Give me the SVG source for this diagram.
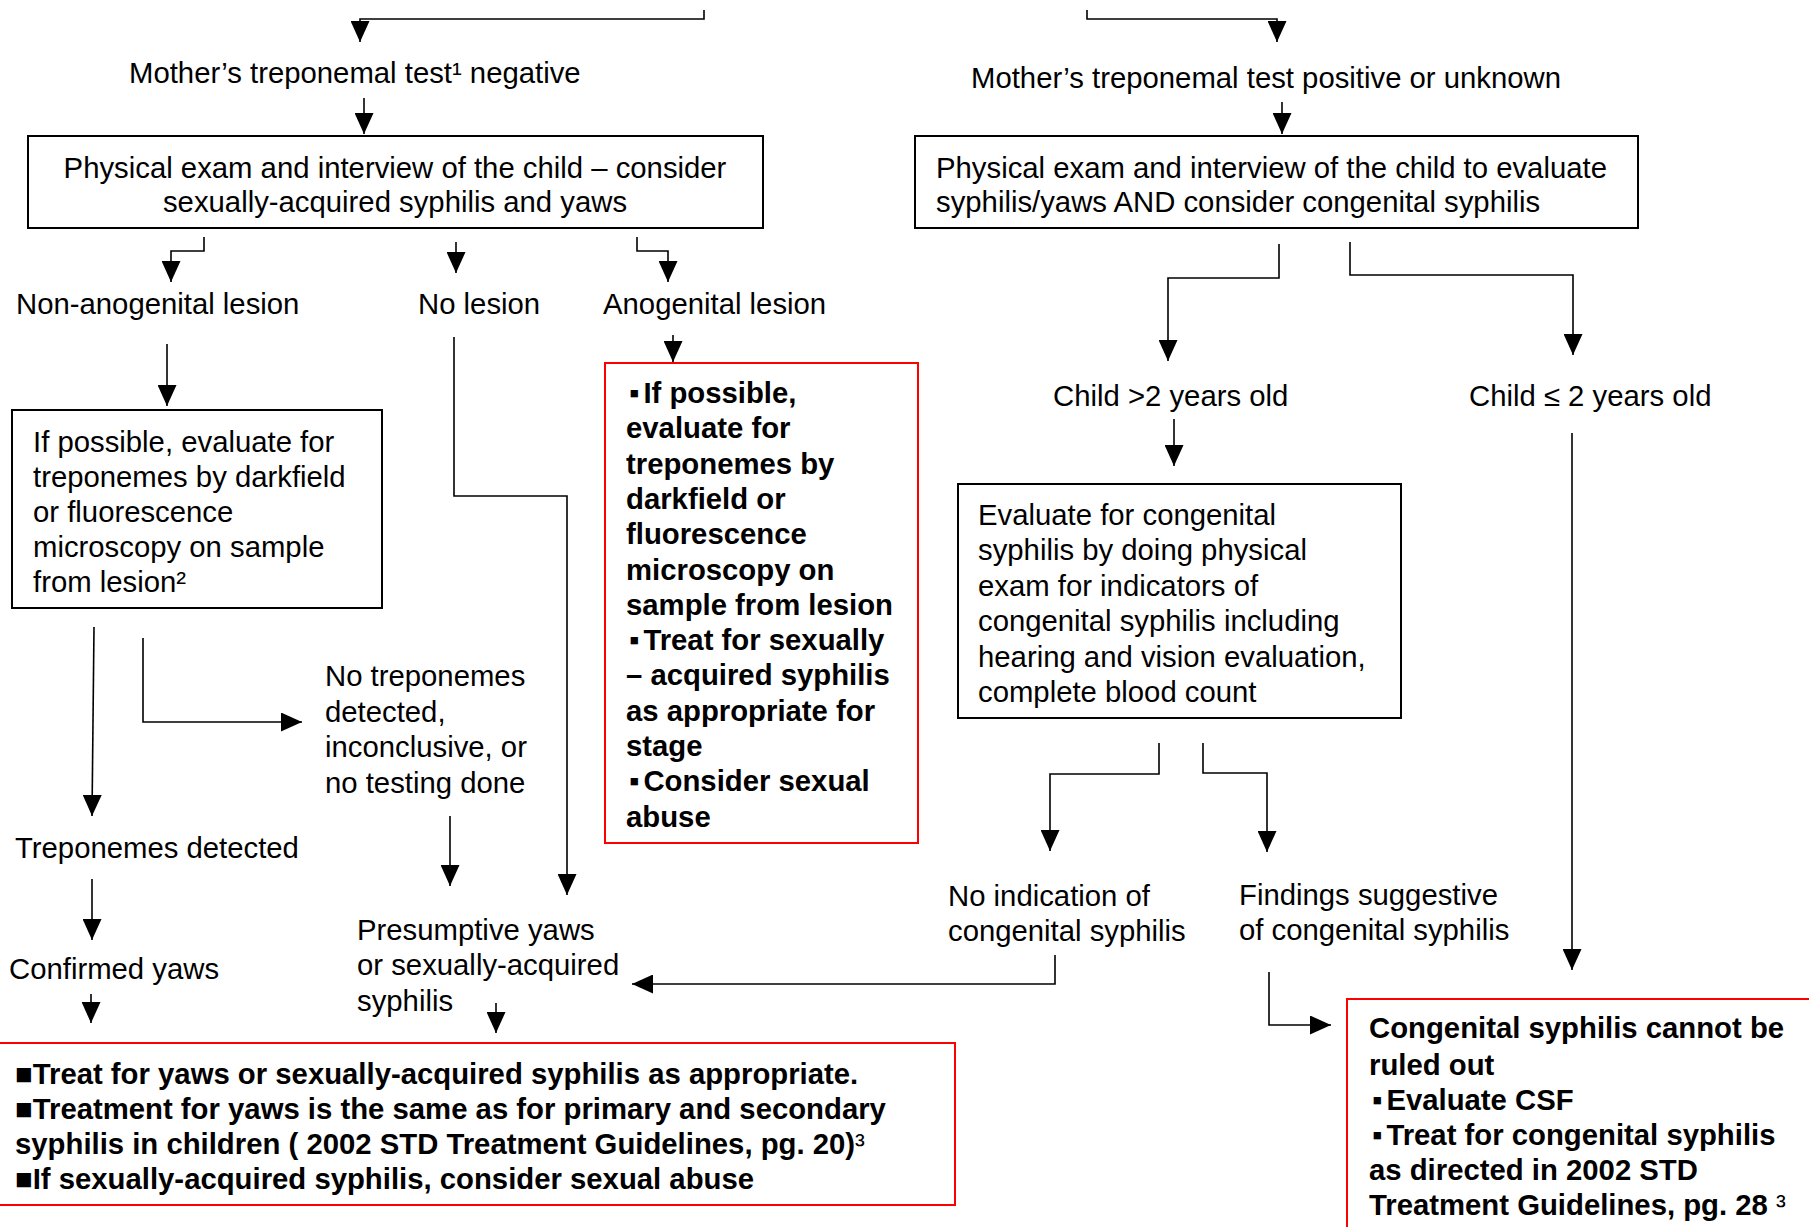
<svg xmlns="http://www.w3.org/2000/svg" width="1809" height="1227" viewBox="0 0 1809 1227">
<style>
text{font-family:"Liberation Sans",Arial,"Noto Sans CJK JP",sans-serif;font-size:29.3px;fill:#000}
.b{font-weight:bold}
.box{fill:#fff;stroke:#000;stroke-width:2}
.red{fill:#fff;stroke:#f00;stroke-width:2}
.c{fill:none;stroke:#000;stroke-width:1.6;marker-end:url(#ah)}
</style>
<defs>
<marker id="ah" markerUnits="userSpaceOnUse" markerWidth="22" markerHeight="19" refX="21" refY="9.5" orient="auto">
<path d="M0,0 L21,9.5 L0,19 z" fill="#000"/>
</marker>
</defs>
<rect width="1809" height="1227" fill="#fff"/>

<g id="connectors">
<path class="c" d="M704,10 V19 H360 V42"/>
<path class="c" d="M1087,10 V19 H1277 V42"/>
<path class="c" d="M364,98 V134"/>
<path class="c" d="M1282,102 V134"/>
<path class="c" d="M204,237 V251 H171 V282"/>
<path class="c" d="M456,242 V273"/>
<path class="c" d="M637,237 V251 H668 V282"/>
<path class="c" d="M673,335 V362"/>
<path class="c" d="M167,344 V406"/>
<path class="c" d="M454,337 V496 H567 V895"/>
<path class="c" d="M94,627 L92,816"/>
<path class="c" d="M143,638 V722 H302"/>
<path class="c" d="M450,816 V886"/>
<path class="c" d="M92,879 V940"/>
<path class="c" d="M91,994 V1023"/>
<path class="c" d="M496,1003 V1033"/>
<path class="c" d="M1279,244 V278 H1168 V361"/>
<path class="c" d="M1350,242 V275 H1573 V355"/>
<path class="c" d="M1174,419 V466"/>
<path class="c" d="M1572,433 V970"/>
<path class="c" d="M1159,743 V774 H1050 V851"/>
<path class="c" d="M1203,743 V773 H1267 V852"/>
<path class="c" d="M1055,955 V984 H632"/>
<path class="c" d="M1269,972 V1025 H1331"/>
</g>

<g id="mother-negative">
<text x="129" y="83">Mother’s treponemal test¹ negative</text>
</g>
<g id="mother-positive">
<text x="971" y="88">Mother’s treponemal test positive or unknown</text>
</g>

<g id="exam-left">
<rect class="box" x="28" y="136" width="735" height="92"/>
<text x="395" y="178" text-anchor="middle">Physical exam and interview of the child – consider</text>
<text x="395" y="212" text-anchor="middle">sexually-acquired syphilis and yaws</text>
</g>

<g id="exam-right">
<rect class="box" x="915" y="136" width="723" height="92"/>
<text x="936" y="178">Physical exam and interview of the child to evaluate</text>
<text x="936" y="212">syphilis/yaws AND consider congenital syphilis</text>
</g>

<g id="non-anogenital"><text x="16" y="314">Non-anogenital lesion</text></g>
<g id="no-lesion"><text x="418" y="314">No lesion</text></g>
<g id="anogenital"><text x="603" y="314">Anogenital lesion</text></g>

<g id="evaluate-left">
<rect class="box" x="12" y="410" width="370" height="198"/>
<text x="33" y="452">If possible, evaluate for</text>
<text x="33" y="487">treponemes by darkfield</text>
<text x="33" y="522">or fluorescence</text>
<text x="33" y="557">microscopy on sample</text>
<text x="33" y="592">from lesion²</text>
</g>

<g id="anogenital-action">
<rect class="red" x="605" y="363" width="313" height="480"/>
<text class="b" x="626" y="403"><tspan dx="3">▪</tspan><tspan dx="4">If possible,</tspan></text>
<text class="b" x="626" y="438">evaluate for</text>
<text class="b" x="626" y="474">treponemes by</text>
<text class="b" x="626" y="509">darkfield or</text>
<text class="b" x="626" y="544">fluorescence</text>
<text class="b" x="626" y="580">microscopy on</text>
<text class="b" x="626" y="615">sample from lesion</text>
<text class="b" x="626" y="650"><tspan dx="3">▪</tspan><tspan dx="4">Treat for sexually</tspan></text>
<text class="b" x="626" y="685">– acquired syphilis</text>
<text class="b" x="626" y="721">as appropriate for</text>
<text class="b" x="626" y="756">stage</text>
<text class="b" x="626" y="791"><tspan dx="3">▪</tspan><tspan dx="4">Consider sexual</tspan></text>
<text class="b" x="626" y="827">abuse</text>
</g>

<g id="no-treponemes">
<text x="325" y="686">No treponemes</text>
<text x="325" y="722">detected,</text>
<text x="325" y="757">inconclusive, or</text>
<text x="325" y="793">no testing done</text>
</g>

<g id="treponemes-detected"><text x="15" y="858">Treponemes detected</text></g>
<g id="confirmed-yaws"><text x="9" y="979">Confirmed yaws</text></g>

<g id="presumptive">
<text x="357" y="940">Presumptive yaws</text>
<text x="357" y="975">or sexually-acquired</text>
<text x="357" y="1011">syphilis</text>
</g>

<g id="treat-yaws">
<rect class="red" x="-5" y="1043" width="960" height="162"/>
<text class="b" x="15" y="1084">■Treat for yaws or sexually-acquired syphilis as appropriate.</text>
<text class="b" x="15" y="1119">■Treatment for yaws is the same as for primary and secondary</text>
<text class="b" x="15" y="1154">syphilis in children ( 2002 STD Treatment Guidelines, pg. 20)<tspan font-weight="normal">³</tspan></text>
<text class="b" x="15" y="1189">■If sexually-acquired syphilis, consider sexual abuse</text>
</g>

<g id="child-older"><text x="1053" y="406">Child &gt;2 years old</text></g>
<g id="child-younger"><text x="1469" y="406">Child ≤ 2 years old</text></g>

<g id="evaluate-congenital">
<rect class="box" x="958" y="484" width="443" height="234"/>
<text x="978" y="525">Evaluate for congenital</text>
<text x="978" y="560">syphilis by doing physical</text>
<text x="978" y="596">exam for indicators of</text>
<text x="978" y="631">congenital syphilis including</text>
<text x="978" y="667">hearing and vision evaluation,</text>
<text x="978" y="702">complete blood count</text>
</g>

<g id="no-indication">
<text x="948" y="906">No indication of</text>
<text x="948" y="941">congenital syphilis</text>
</g>

<g id="findings">
<text x="1239" y="905">Findings suggestive</text>
<text x="1239" y="940">of congenital syphilis</text>
</g>

<g id="congenital-action">
<rect class="red" x="1347" y="999" width="470" height="240"/>
<text class="b" x="1369" y="1038">Congenital syphilis cannot be</text>
<text class="b" x="1369" y="1075">ruled out</text>
<text class="b" x="1369" y="1110"><tspan dx="3">▪</tspan><tspan dx="4">Evaluate CSF</tspan></text>
<text class="b" x="1369" y="1145"><tspan dx="3">▪</tspan><tspan dx="4">Treat for congenital syphilis</tspan></text>
<text class="b" x="1369" y="1180">as directed in 2002 STD</text>
<text class="b" x="1369" y="1215">Treatment Guidelines, pg. 28 <tspan font-weight="normal">³</tspan></text>
</g>
</svg>
